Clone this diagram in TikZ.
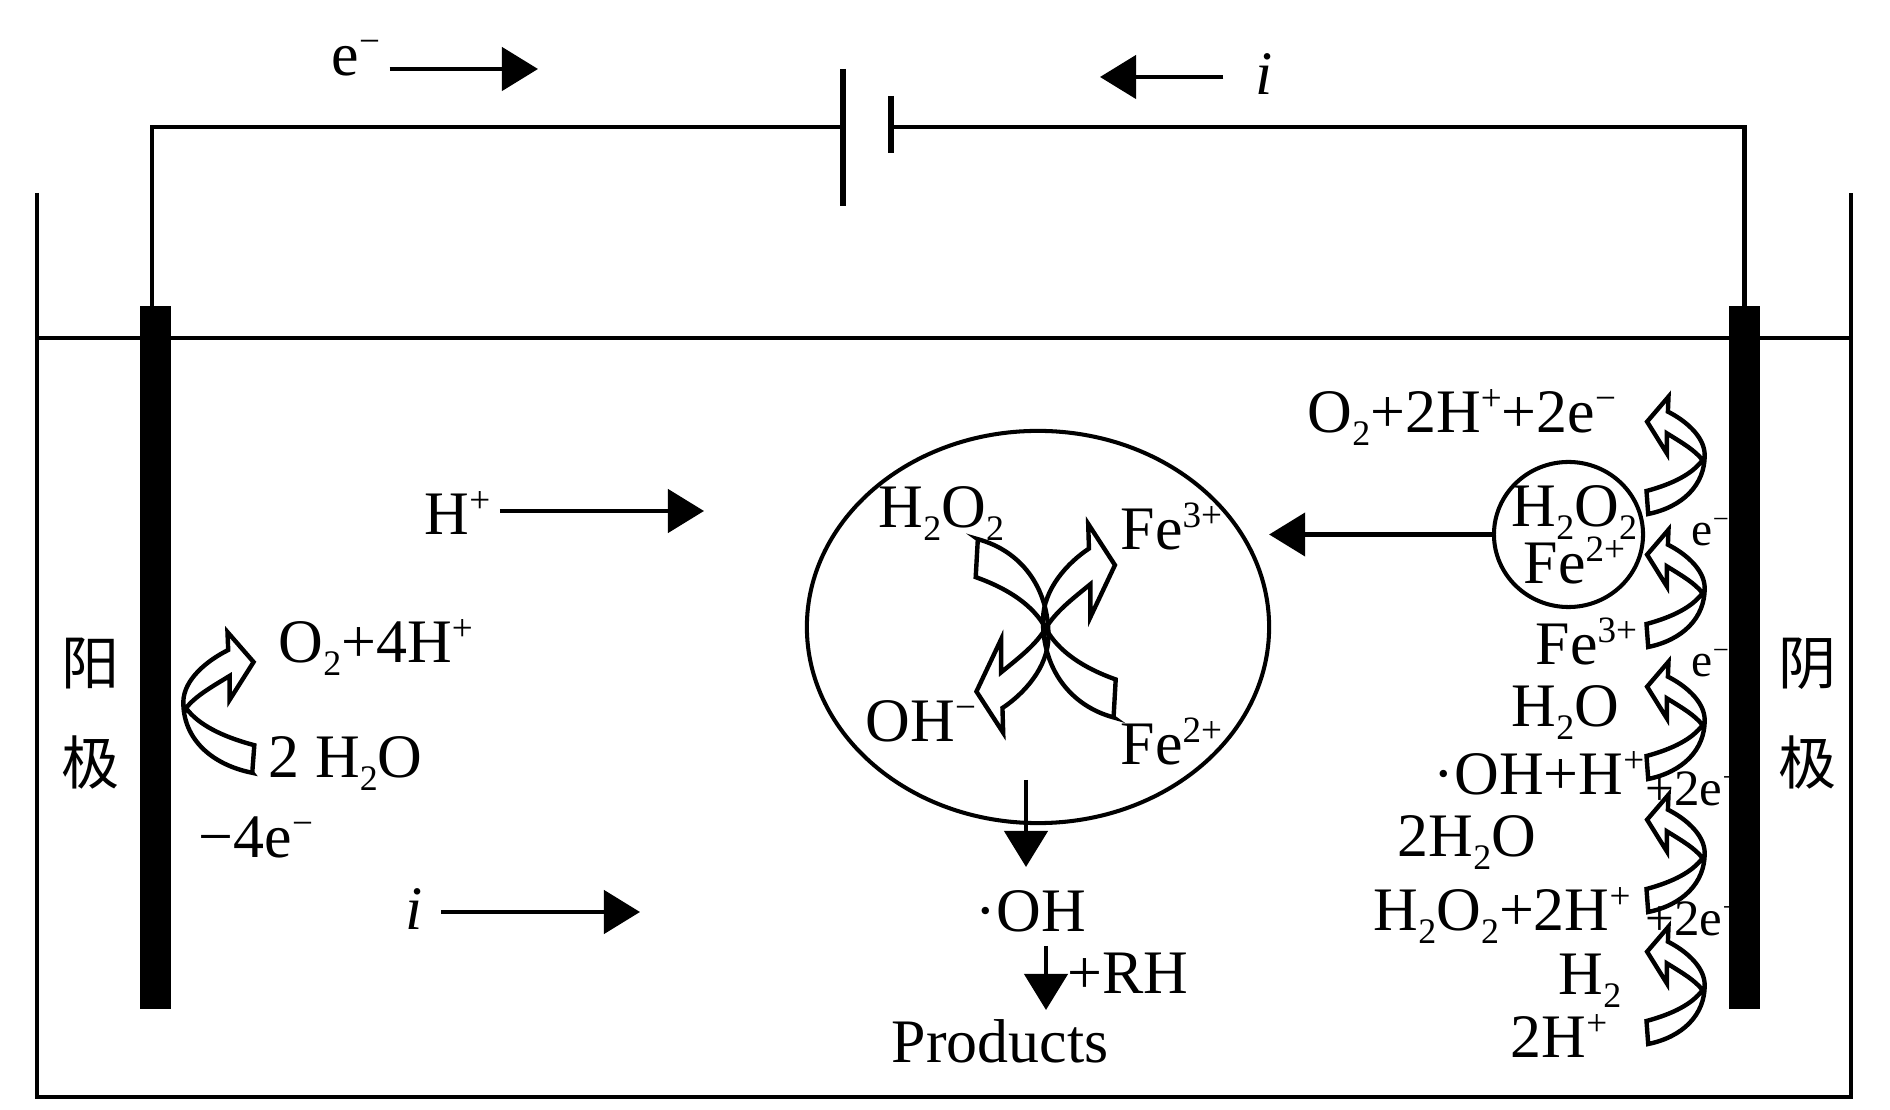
\documentclass[tikz,border=0pt]{standalone}
\usepackage{fontspec}
\setmainfont{Liberation Serif}
\newfontfamily\cjk{Noto Sans CJK SC}
\usetikzlibrary{arrows.meta, positioning, shapes.geometric, calc}
\newcommand{\sub}[1]{\raisebox{-0.2em}{\scalebox{0.58}{#1}}}
\newcommand{\sups}[1]{\raisebox{0.36em}{\scalebox{0.6}{#1}}}
\tikzset{
  turnarrow/.pic={
    \draw[line width=1.25pt, miter limit=12] (-54.3,54) -- (-56,31)
      .. controls (-30,24) and (-10,14) .. (0,0)
      .. controls (-8,-10) and (-20,-17) .. (-35.7,-26.7)
      -- (-35.7,-6.7) -- (-55.4,-38.3) -- (-34,-63.3) -- (-34.6,-48.3)
      .. controls (-18,-40) and (2,-24) .. (2.2,-5)
      .. controls (2.4,25) and (-20,47) .. cycle;
  }
}
\begin{document}
\begin{tikzpicture}[
    x=0.01cm, y=-0.01cm,
    label/.style={anchor=base west, inner sep=0pt, font=\fontsize{17.6}{20}\selectfont},
    smalllabel/.style={anchor=base west, inner sep=0pt, font=\fontsize{13.5}{16}\selectfont},
    midlabel/.style={anchor=base west, inner sep=0pt, font=\fontsize{14.5}{16}\selectfont},
    cnlabel/.style={align=center, inner sep=0pt, font=\cjk\fontsize{16.5}{28.4}\selectfont},
    wire/.style={line width=1.15pt},
    plate/.style={line width=1.6pt},
    arr/.style={-{Triangle[length=0.36cm, width=0.43cm]}, line width=1.25pt},
    electrode/.style={rectangle, fill=black, inner sep=0pt, minimum height=7.02cm},
    vessel/.style={ellipse, draw, line width=1.15pt, inner sep=0pt, outer sep=0pt}
  ]
  \useasboundingbox (0,0) rectangle (1890,1110);
  % tank and solution
  \draw[wire] (37,193) -- (37,1097) -- (1851,1097) -- (1851,193);
  \draw[wire] (37,338) -- (1851,338);
  % electrodes
  \node[electrode, minimum width=0.31cm] (anode) at (155.5,657.5) {};
  \node[electrode, minimum width=0.31cm] (cathode) at (1744.5,657.5) {};
  \node[cnlabel] (anodename) at (91,714) {阳\\极};
  \node[cnlabel] (cathodename) at (1807,714) {阴\\极};
  % battery
  \coordinate (longtop) at (843,69);
  \coordinate (longbot) at (843,206);
  \coordinate (shorttop) at (891,96);
  \coordinate (shortbot) at (891,153);
  \coordinate (anodewire) at (152,306);
  \draw[plate] (longtop) -- (longbot);
  \draw[plate] (shorttop) -- (shortbot);
  \draw[wire] (anodewire) |- (843,127);
  \draw[wire] (cathode.north) |- (891,127);
  % top labels
  \node[label] (eminus) at (331,76) {e\sups{−}};
  \coordinate (eend) at (538,69);
  \draw[arr, shorten <=2.5pt] (eminus.east |- eend) -- (eend);
  \node[label] (itop) at (1255,95) {\textit{i}};
  \coordinate (itopend) at (1100,77);
  \draw[arr, shorten <=9pt] (itop.west |- itopend) -- (itopend);
  % solution labels
  \node[label] (hplus) at (424,535) {H\sups{+}};
  \coordinate (hplusend) at (704,511);
  \draw[arr, shorten <=2.5pt] (hplus.east |- hplusend) -- (hplusend);
  \node[label] (ilow) at (405,930) {\textit{i}};
  \coordinate (ilowend) at (640,912);
  \draw[arr, shorten <=5pt] (ilow.east |- ilowend) -- (ilowend);
  % anode reaction
  \pic[xscale=-1.22, yscale=1.2] at (186,708) {turnarrow};
  \node[label] (otwo) at (278,663) {O\sub{2}+4H\sups{+}};
  \node[label] (water) at (268,778) {2 H\sub{2}O};
  \node[label] (fourE) at (198,858) {−4e\sups{−}};
  % Fenton vessel
  \node[vessel, minimum width=4.62cm, minimum height=3.92cm] (reactor) at (1038,627) {};
  \pic[xscale=-1.25, yscale=1.65] at (1045.7,628.3) {turnarrow};
  \pic[xscale=1.25, yscale=-1.65] at (1045.7,628.3) {turnarrow};
  \node[label] (hpo) at (878,528) {H\sub{2}O\sub{2}};
  \node[label] (fethree) at (1120,550) {Fe\sups{3+}};
  \node[label] (ohminus) at (865,742) {OH\sups{−}};
  \node[label] (fetwo) at (1120,765) {Fe\sups{2+}};
  \coordinate (dropstart) at (1026,780);
  \coordinate (dropend) at (1026,867);
  \draw[arr] (dropstart) -- (dropend);
  \node[label] (radical) at (975,932) {·OH};
  \node[label] (rh) at (1067,994) {+RH};
  \node[label] (products) at (891,1063) {Products};
  \coordinate (prodstart) at (1046,946);
  \coordinate (prodend) at (1046,1010);
  \draw[arr] (prodstart) -- (prodend);
  % cathode reactions
  \node[vessel, minimum width=1.49cm, minimum height=1.45cm] (source) at (1568.5,534.5) {};
  \draw[arr] (source.west) -- (reactor.east |- source.west);
  \foreach \ypos in {460,593,725,858,990}
    \pic at (1702.5,\ypos) {turnarrow};
  \node[label] (oxygen) at (1307,433) {O\sub{2}+2H\sups{+}+2e\sups{−}};
  \node[label] (srcperox) at (1511,527) {H\sub{2}O\sub{2}};
  \node[label] (srciron) at (1523,584) {Fe\sups{2+}};
  \node[smalllabel] (eone) at (1691,546) {e\sups{−}};
  \node[label] (ironthree) at (1535,665) {Fe\sups{3+}};
  \node[smalllabel] (etwo) at (1691,677) {e\sups{−}};
  \node[label] (hwater) at (1511,727) {H\sub{2}O};
  \node[label] (hydroxyl) at (1433,795) {·OH+H\sups{+}};
  \node[midlabel] (ethree) at (1645,806) {+2e\sups{−}};
  \node[label] (twowater) at (1397,857) {2H\sub{2}O};
  \node[label] (peroxide) at (1373,931) {H\sub{2}O\sub{2}+2H\sups{+}};
  \node[midlabel] (efour) at (1645,936) {+2e\sups{−}};
  \node[label] (hydrogen) at (1558,995) {H\sub{2}};
  \node[label] (protons) at (1510,1058) {2H\sups{+}};
\end{tikzpicture}
\end{document}
